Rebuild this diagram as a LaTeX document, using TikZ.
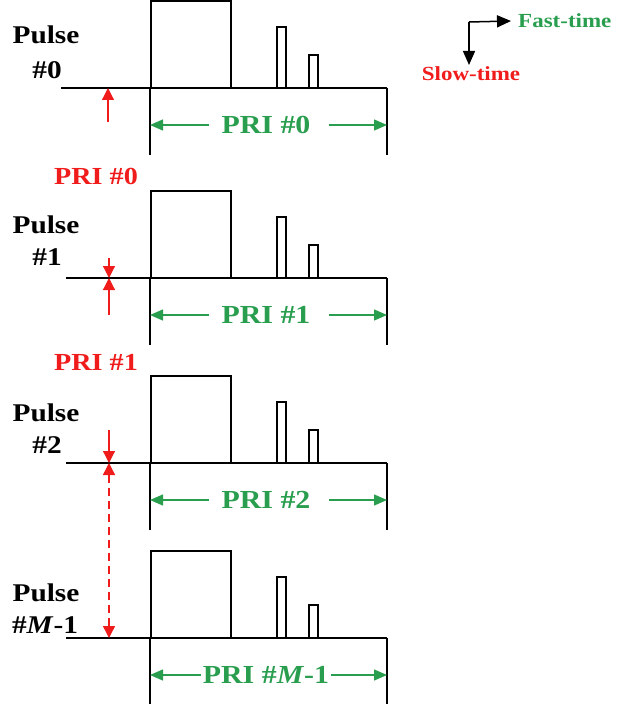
\documentclass[tikz,border=0pt]{standalone}
\usepackage{fontspec}
\setmainfont[FakeStretch=1.15]{Liberation Serif}
\usetikzlibrary{arrows.meta}
\definecolor{pulsegreen}{RGB}{40,158,78}
\definecolor{prired}{RGB}{240,28,28}
\tikzset{
  axis/.style={line width=1.7pt,black},
  pulsebox/.style={line width=2pt,black},
  bound/.style={line width=1.3pt,black},
  priarrow/.style={line width=1.3pt,pulsegreen,-{Triangle[length=13pt,width=11pt]}},
  redarrow/.style={line width=1.2pt,prired,-{Triangle[length=12pt,width=12pt]}},
  reddash/.style={line width=1.4pt,prired,dash pattern=on 8pt off 5pt,
    {Triangle[length=12pt,width=12pt]}-{Triangle[length=12pt,width=12pt]}},
  legendarrow/.style={line width=1.5pt,black,-{Triangle[length=14pt,width=12pt]}},
  pulsetxt/.style={font=\bfseries\fontsize{25.5}{28}\selectfont,inner sep=0pt},
  pritxt/.style={font=\bfseries\fontsize{26}{28}\selectfont,text=pulsegreen,inner sep=0pt,fill=white},
  redtxt/.style={font=\bfseries\fontsize{24.5}{28}\selectfont,text=prired,inner sep=0pt},
  legendtxt/.style={font=\bfseries\fontsize{20}{22}\selectfont,inner sep=0pt},
}
\begin{document}
\begin{tikzpicture}[x=1pt,y=-1pt]
\useasboundingbox (0,0) rectangle (616,708);

% one pulse train: baseline, three pulses, PRI bounds and span
% #1 baseline y, #2 baseline start x, #3 PRI label, #4 bound length, #5 name
\newcommand{\pulsetrain}[5]{%
  \draw[axis] (#2,#1) -- (387,#1);
  \draw[pulsebox] (151,#1) -- (151,#1-87) -- (231,#1-87) -- (231,#1);
  \draw[pulsebox] (277,#1) -- (277,#1-61) -- (286,#1-61) -- (286,#1);
  \draw[pulsebox] (309,#1) -- (309,#1-33) -- (318,#1-33) -- (318,#1);
  \coordinate (#5l) at (150,#1+37);
  \coordinate (#5r) at (387,#1+37);
  \draw[bound] (150,#1) -- (150,#1+#4);
  \draw[bound] (387,#1) -- (387,#1+#4);
  \node[pritxt] (#5t) at (266,#1+37) {#3};
}

\pulsetrain{88}{61}{PRI \#0}{67}{p0}
\pulsetrain{278}{66}{PRI \#1}{67}{p1}
\pulsetrain{463}{66}{PRI \#2}{67}{p2}
\pulsetrain{638}{66}{PRI \#\textit{M}-1}{66}{p3}

% PRI span arrows
\draw[priarrow] ([xshift=-12pt]p0t.west) -- (p0l);
\draw[priarrow] ([xshift=18pt]p0t.east) -- (p0r);
\draw[priarrow] ([xshift=-12pt]p1t.west) -- (p1l);
\draw[priarrow] ([xshift=18pt]p1t.east) -- (p1r);
\draw[priarrow] ([xshift=-12pt]p2t.west) -- (p2l);
\draw[priarrow] ([xshift=18pt]p2t.east) -- (p2r);
\draw[priarrow] ([xshift=-2pt]p3t.west) -- (p3l);
\draw[priarrow] ([xshift=2pt]p3t.east) -- (p3r);

% pulse labels
\node[pulsetxt] (l0a) at (46,35) {Pulse};
\node[pulsetxt] (l0b) at (47,70) {\#0};
\node[pulsetxt] (l1a) at (46,225) {Pulse};
\node[pulsetxt] (l1b) at (47,257) {\#1};
\node[pulsetxt] (l2a) at (46,413) {Pulse};
\node[pulsetxt] (l2b) at (47,445) {\#2};
\node[pulsetxt] (l3a) at (46,593) {Pulse};
\node[pulsetxt] (l3b) at (45,625) {\#\textit{M}-1};

% slow-time spacing markers
\coordinate (r0a) at (108,122);
\coordinate (r0b) at (108,88);
\coordinate (r1a) at (109,258);
\coordinate (r1b) at (109,278);
\coordinate (r1c) at (109,315);
\coordinate (r2a) at (109,430);
\coordinate (r2b) at (109,463);
\coordinate (r3b) at (109,638);
\draw[redarrow] (r0a) -- (r0b);
\draw[redarrow] (r1a) -- (r1b);
\draw[redarrow] (r1c) -- (r1b);
\draw[redarrow] (r2a) -- (r2b);
\draw[reddash] (r2b) -- (r3b);

\node[redtxt] (s0) at (96,176) {PRI \#0};
\node[redtxt] (s1) at (96,362) {PRI \#1};

% time axes legend
\coordinate (corner) at (469,22);
\node[legendtxt,text=pulsegreen,anchor=west] (fast) at (518,21) {Fast-time};
\node[legendtxt,text=prired] (slow) at (471,74) {Slow-time};
\draw[legendarrow] (corner) -- ([xshift=-7pt]fast.west);
\draw[legendarrow] (corner) -- (469,65);
\end{tikzpicture}
\end{document}
